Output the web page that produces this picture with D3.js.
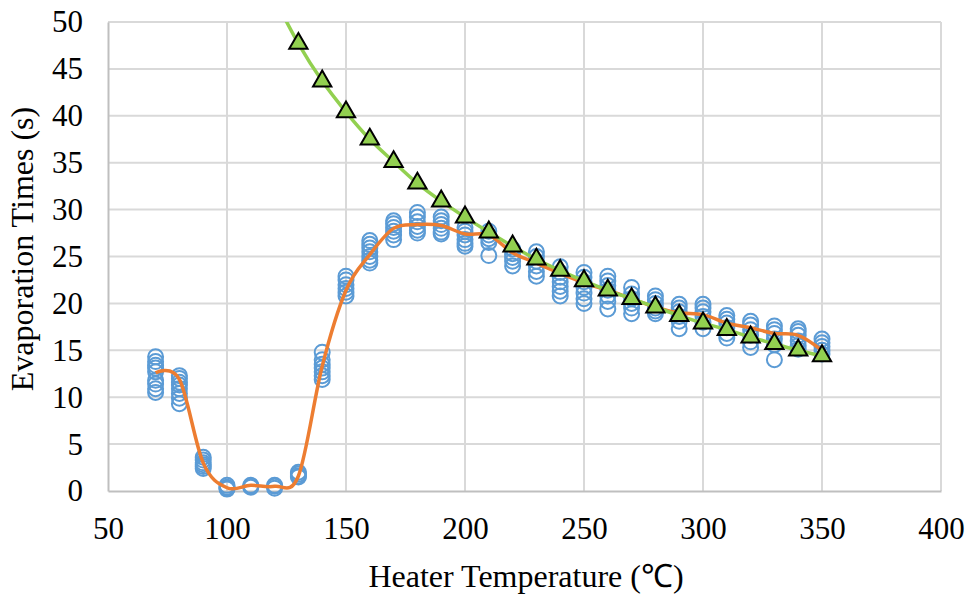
<!DOCTYPE html>
<html>
<head>
<meta charset="utf-8">
<script src="https://cdn.jsdelivr.net/npm/d3@7"></script>
<style>
  body { margin: 0; background: #fff; }
</style>
</head>
<body>
<div id="chart"></div>
<script>
// measured evaporation times, one array of repeats per heater temperature
const scatterTemps = [70, 80, 90, 100, 110, 120, 130, 140, 150, 160, 170, 180, 190, 200,
  210, 220, 230, 240, 250, 260, 270, 280, 290, 300, 310, 320, 330, 340, 350];
const scatterTimes = [
  [14.3, 13.8, 13.4, 13.1, 12.7, 11.8, 11.4, 10.9, 10.5],
  [12.3, 12.0, 11.6, 11.3, 10.9, 10.4, 9.9, 9.3],
  [3.6, 3.3, 3.0, 2.8, 2.6, 2.4],
  [0.6, 0.4, 0.3, 0.2],
  [0.6, 0.5, 0.4],
  [0.6, 0.5, 0.3],
  [2.0, 1.8, 1.6, 1.5],
  [14.8, 14.0, 13.5, 13.1, 12.7, 12.3, 11.9],
  [22.9, 22.5, 22.0, 21.6, 21.2, 20.8],
  [26.7, 26.3, 25.9, 25.5, 25.0, 24.6, 24.3],
  [28.8, 28.5, 28.1, 27.7, 27.3, 26.8],
  [29.7, 29.2, 28.7, 28.2, 27.8, 27.5],
  [29.2, 28.8, 28.4, 28.0, 27.6, 27.4],
  [28.1, 27.7, 27.3, 26.8, 26.4, 26.1],
  [27.7, 27.3, 26.9, 26.5, 25.1],
  [25.8, 25.3, 24.9, 24.5, 24.0],
  [25.5, 25.0, 24.5, 24.0, 23.4, 22.9],
  [23.9, 23.3, 22.8, 22.3, 21.8, 21.3, 20.8],
  [23.3, 22.8, 22.3, 21.7, 21.1, 20.5, 20.0],
  [22.9, 22.4, 21.9, 21.4, 20.8, 20.2, 19.4],
  [21.7, 21.0, 20.5, 20.0, 19.5, 18.9],
  [20.8, 20.4, 20.0, 19.5, 19.2, 18.9],
  [19.9, 19.5, 19.1, 18.6, 18.1, 17.3],
  [19.9, 19.5, 19.1, 18.6, 18.0, 17.3],
  [18.7, 18.3, 17.9, 17.4, 16.8, 16.3],
  [18.1, 17.7, 17.2, 16.6, 15.9, 15.3],
  [17.6, 17.2, 16.8, 16.2, 15.6, 14.0],
  [17.3, 17.0, 16.6, 16.0, 15.5, 15.1],
  [16.2, 15.8, 15.4, 15.0, 14.6]
];

// average curve (orange)
const meanTimes = [12.6, 11.9, 3.0, 0.35, 0.6, 0.5, 1.6, 13.3, 21.4, 25.2, 28.0, 28.4, 28.3, 27.4,
  27.3, 25.4, 24.3, 23.2, 22.2, 21.4, 20.5, 19.6, 19.0, 18.8, 17.9, 17.4, 16.8, 16.6, 15.0];

// model curve (green triangles)
const modelTemps = [120, 130, 140, 150, 160, 170, 180, 190, 200, 210, 220, 230, 240,
  250, 260, 270, 280, 290, 300, 310, 320, 330, 340, 350];
const modelTimes = [52.5, 47.7, 43.7, 40.4, 37.5, 35.1, 32.8, 30.9, 29.2, 27.6, 26.1, 24.7, 23.5,
  22.4, 21.4, 20.5, 19.6, 18.7, 17.9, 17.2, 16.4, 15.7, 15.0, 14.4];

const xTicks = [50, 100, 150, 200, 250, 300, 350, 400];
const yTicks = [0, 5, 10, 15, 20, 25, 30, 35, 40, 45, 50];

const serif = "Liberation Serif";

function drawChart() {
  const container = d3.select("#chart");
  container.selectAll("*").remove();

  const width = 971;
  const height = 594;
  const margin = { top: 22, right: 30, bottom: 103, left: 108 };

  const svg = container.append("svg")
    .attr("width", width)
    .attr("height", height)
    .attr("font-family", serif);

  const x = d3.scaleLinear()
    .domain([50, 400])
    .range([margin.left, width - margin.right]);

  const y = d3.scaleLinear()
    .domain([0, 50])
    .range([height - margin.bottom, margin.top]);

  svg.append("defs").append("clipPath")
    .attr("id", "plot-clip")
    .append("rect")
    .attr("x", margin.left)
    .attr("y", margin.top)
    .attr("width", width - margin.left - margin.right)
    .attr("height", height - margin.top - margin.bottom);

  // gridlines
  svg.append("g")
    .selectAll("line")
    .data(yTicks.slice(1))
    .join("line")
    .attr("x1", margin.left)
    .attr("x2", width - margin.right)
    .attr("y1", d => y(d))
    .attr("y2", d => y(d))
    .attr("stroke", "#d9d9d9")
    .attr("stroke-width", 2);

  svg.append("g")
    .selectAll("line")
    .data(xTicks.slice(1))
    .join("line")
    .attr("x1", d => x(d))
    .attr("x2", d => x(d))
    .attr("y1", margin.top)
    .attr("y2", height - margin.bottom)
    .attr("stroke", "#d9d9d9")
    .attr("stroke-width", 2);

  // axes
  const xAxis = svg.append("g")
    .attr("transform", `translate(0,${height - margin.bottom})`)
    .call(d3.axisBottom(x).tickValues(xTicks).tickSize(0).tickPadding(26));
  xAxis.attr("font-family", serif).attr("font-size", 31);
  xAxis.select(".domain").attr("stroke", "#bfbfbf").attr("stroke-width", 2);
  xAxis.selectAll("text").attr("fill", "#000");

  const yAxis = svg.append("g")
    .attr("transform", `translate(${margin.left},0)`)
    .call(d3.axisLeft(y).tickValues(yTicks).tickSize(0).tickPadding(25));
  yAxis.attr("font-family", serif).attr("font-size", 31);
  yAxis.select(".domain").attr("stroke", "#bfbfbf").attr("stroke-width", 2);
  yAxis.selectAll("text").attr("fill", "#000");

  // measured points
  const points = [];
  scatterTemps.forEach((t, i) => {
    scatterTimes[i].forEach(v => points.push({ t, v }));
  });

  svg.append("g")
    .selectAll("circle")
    .data(points)
    .join("circle")
    .attr("cx", d => x(d.t))
    .attr("cy", d => y(d.v))
    .attr("r", 7.5)
    .attr("fill", "none")
    .attr("stroke", "#5b9bd5")
    .attr("stroke-width", 2);

  const plot = svg.append("g").attr("clip-path", "url(#plot-clip)");

  const meanLine = d3.line()
    .x((d, i) => x(scatterTemps[i]))
    .y(d => y(d))
    .curve(d3.curveCatmullRom.alpha(0));

  plot.append("path")
    .datum(meanTimes)
    .attr("fill", "none")
    .attr("stroke", "#ed7d31")
    .attr("stroke-width", 3.5)
    .attr("d", meanLine);

  const modelLine = d3.line()
    .x((d, i) => x(modelTemps[i]))
    .y(d => y(d))
    .curve(d3.curveCatmullRom.alpha(0));

  plot.append("path")
    .datum(modelTimes)
    .attr("fill", "none")
    .attr("stroke", "#92d050")
    .attr("stroke-width", 3.5)
    .attr("d", modelLine);

  const tri = d3.symbol().type(d3.symbolTriangle).size(145);

  plot.append("g")
    .selectAll("path")
    .data(modelTimes.map((v, i) => ({ t: modelTemps[i], v })))
    .join("path")
    .attr("transform", d => `translate(${x(d.t)},${y(d.v)})`)
    .attr("d", tri)
    .attr("fill", "#92d050")
    .attr("stroke", "#000")
    .attr("stroke-width", 2);

  // axis titles
  svg.append("text")
    .attr("x", 526)
    .attr("y", 587)
    .attr("text-anchor", "middle")
    .attr("font-family", serif)
    .attr("font-size", 32)
    .text("Heater Temperature (℃)");

  svg.append("text")
    .attr("transform", "translate(33,249) rotate(-90)")
    .attr("text-anchor", "middle")
    .attr("font-family", serif)
    .attr("font-size", 32)
    .text("Evaporation Times (s)");
}

drawChart();
</script>
</body>
</html>
